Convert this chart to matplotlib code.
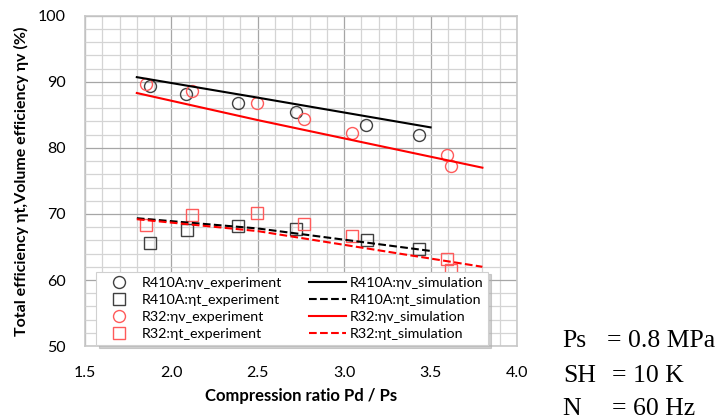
import numpy as np
import matplotlib.pyplot as plt
from matplotlib.ticker import MultipleLocator, FormatStrFormatter

# experiment data (compression ratio, efficiency %)
r410_v_x = [1.878, 2.086, 2.385, 2.72, 3.128, 3.435]
r410_v_y = [89.4, 88.2, 86.8, 85.4, 83.4, 82.0]
r32_v_x = [1.851, 2.121, 2.494, 2.769, 3.045, 3.597, 3.618]
r32_v_y = [89.7, 88.6, 86.75, 84.4, 82.2, 78.9, 77.3]
r410_t_x = [1.878, 2.088, 2.387, 2.72, 3.13, 3.435]
r410_t_y = [65.6, 67.6, 68.2, 67.7, 66.1, 64.7]
r32_t_x = [1.851, 2.121, 2.494, 2.769, 3.047, 3.597, 3.618]
r32_t_y = [68.3, 69.9, 70.1, 68.5, 66.6, 63.2, 61.5]

# simulation curves
sim410_x = [1.8, 2.5, 3.5]
sim410_v = [90.7, 87.6, 83.1]
sim410_t = [69.35, 67.8, 64.4]
sim32_x = [1.8, 2.5, 3.8]
sim32_v = [88.3, 84.2, 77.0]
sim32_t = [69.2, 67.4, 62.0]

red = '#ff0000'
mred = '#ff5a5a'
mblk = '#404040'

plt.rcParams['font.family'] = ['Lato', 'DejaVu Sans']

fig = plt.figure(figsize=(7.16, 4.2), dpi=100)
ax = fig.add_axes([0.1187, 0.176, 0.6033, 0.7866])

ax.plot(r410_v_x, r410_v_y, 'o', ms=8.6, mfc='none', mec=mblk, mew=1.0, label='R410A:ηv_experiment')
ax.plot(r410_t_x, r410_t_y, 's', ms=8.3, mfc='none', mec=mblk, mew=1.0, label='R410A:ηt_experiment')
ax.plot(r32_v_x, r32_v_y, 'o', ms=8.6, mfc='none', mec=mred, mew=1.0, label='R32:ηv_experiment')
ax.plot(r32_t_x, r32_t_y, 's', ms=8.3, mfc='none', mec=mred, mew=1.0, label='R32:ηt_experiment')
ax.plot(sim410_x, sim410_v, '-', color='black', lw=1.5, label='R410A:ηv_simulation')
ax.plot(sim410_x, sim410_t, '--', color='black', lw=1.5, label='R410A:ηt_simulation')
ax.plot(sim32_x, sim32_v, '-', color=red, lw=1.5, label='R32:ηv_simulation')
ax.plot(sim32_x, sim32_t, '--', color=red, lw=1.5, label='R32:ηt_simulation')

ax.set_xlim(1.5, 4.0)
ax.set_ylim(50, 100)
ax.xaxis.set_major_locator(MultipleLocator(0.5))
ax.xaxis.set_minor_locator(MultipleLocator(0.1))
ax.xaxis.set_major_formatter(FormatStrFormatter('%.1f'))
ax.yaxis.set_major_locator(MultipleLocator(10))
ax.yaxis.set_minor_locator(MultipleLocator(2))
ax.grid(which='major', color='#a6a6a6', lw=0.9)
ax.grid(which='minor', color='#d4d4d4', lw=0.9)
ax.set_axisbelow(True)
ax.tick_params(which='both', length=0, labelsize=11.5)
ax.tick_params(axis='x', pad=14)
ax.tick_params(axis='y', pad=14)
for s in ax.spines.values():
    s.set_color('#c8c8c8')
    s.set_linewidth(1.2)

ax.set_xlabel('Compression ratio Pd / Ps', fontsize=12, fontweight='bold', labelpad=6)
ax.set_ylabel('Total efficiency ηt,Volume efficiency ηv (%)', fontsize=11.5, fontweight='bold', labelpad=6)

leg = ax.legend(ncol=2, loc='lower left', bbox_to_anchor=(0.015, -0.01), fontsize=10.3,
                frameon=True, fancybox=False, shadow={'color': '#b0b0b0', 'alpha': 0.6},
                framealpha=1, edgecolor='#d0d0d0', handlelength=2.6, columnspacing=1.9,
                labelspacing=0.36, borderpad=0.35, handletextpad=0.25, borderaxespad=0.3)
leg.get_frame().set_linewidth(0.8)

serif = 'Liberation Serif'
fig.text(0.786, 0.174, 'Ps', fontsize=18.5, family=serif)
fig.text(0.848, 0.174, '= 0.8 MPa', fontsize=18.5, family=serif)
fig.text(0.786, 0.0905, 'SH', fontsize=18.5, family=serif)
fig.text(0.855, 0.0905, '= 10 K', fontsize=18.5, family=serif)
fig.text(0.786, 0.012, 'N', fontsize=18.5, family=serif)
fig.text(0.855, 0.012, '= 60 Hz', fontsize=18.5, family=serif)

fig.savefig('out.png', dpi=100)
